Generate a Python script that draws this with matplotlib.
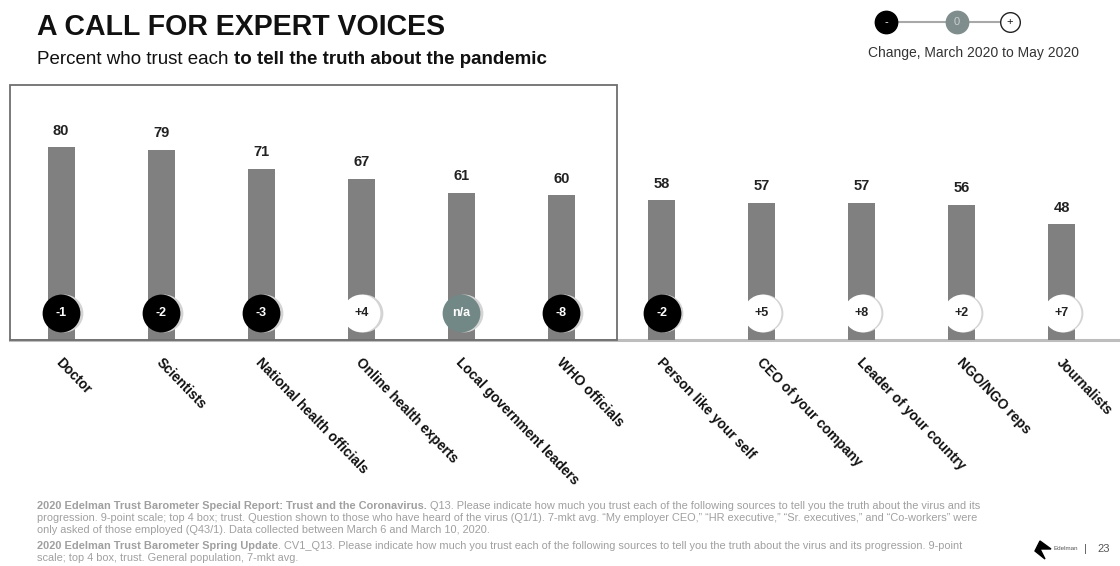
import matplotlib
matplotlib.use("Agg")
import matplotlib.pyplot as plt
from matplotlib.patches import Rectangle, Polygon
from matplotlib import font_manager

plt.rcParams['font.family'] = ['Liberation Sans', 'DejaVu Sans']

# data
labels = ["Doctor", "Scientists", "National health officials", "Online health experts",
          "Local government leaders", "WHO officials", "Person like your self",
          "CEO of your company", "Leader of your country", "NGO/NGO reps", "Journalists"]
trust = [80, 79, 71, 67, 61, 60, 58, 57, 57, 56, 48]
change = ["-1", "-2", "-3", "+4", "n/a", "-8", "-2", "+5", "+8", "+2", "+7"]
n_boxed = 6  # first six sources inside the frame

W, H = 1120, 566
fig = plt.figure(figsize=(W / 100, H / 100), dpi=100)
fig.patch.set_facecolor("white")

names = {f.name for f in font_manager.fontManager.ttflist}
narrow = ['Liberation Sans Narrow', 'Liberation Sans'] if 'Liberation Sans Narrow' in names else ['Liberation Sans']

# overlay axes in pixel coords for decorations
deco = fig.add_axes([0, 0, 1, 1])
deco.set_xlim(0, W)
deco.set_ylim(H, 0)
deco.axis("off")

ax = fig.add_axes([10 / W, 1 - 340 / H, 1110 / W, 255 / H])
ax.set_xlim(-0.51, 10.58)
ax.set_ylim(0, 105.8)
ax.axis("off")

x = list(range(len(labels)))
ax.bar(x, trust, width=0.27, color="#808080", zorder=2)
for i, v in enumerate(trust):
    ax.text(i, v + 4, str(v), ha="center", va="bottom", fontsize=10.5,
            fontweight="bold", color="#222222")

# change bubbles
def bubble_style(c):
    if c == "n/a":
        return "#728886", "white"
    if c.startswith("-"):
        return "black", "white"
    return "white", "#222222"

for i, c in enumerate(change):
    fc, tc = bubble_style(c)
    ax.scatter([i + 0.025], [11.0], s=740, color="#d4d4d4", zorder=3, clip_on=False,
               linewidths=0)
    ax.scatter([i], [11.2], s=740, color=fc, zorder=4, clip_on=False, linewidths=0)
    ax.text(i, 11.2, c, ha="center", va="center", fontsize=9, fontweight="bold",
            color=tc, zorder=5)

# frame around first group and baseline
ax.axhline(0, color="#bdbdbd", lw=2.2, zorder=1, clip_on=False)
ax.add_patch(Rectangle((-0.51, 0), n_boxed - 0.5 + 0.565, 105.8, fill=False,
                       edgecolor="#6e6e6e", lw=1.3, zorder=6, clip_on=False))

# rotated category labels
for i, lab in enumerate(labels):
    ax.text(i + 0.02, -6.5, lab, rotation=-46, rotation_mode="anchor", ha="left",
            va="top", fontsize=9.9, fontweight="bold", color="#111111", clip_on=False)

fig.canvas.draw()
renderer = fig.canvas.get_renderer()

def fit_text(x0, y0, txt, target_w, size, **kw):
    t = deco.text(x0, y0, txt, fontsize=size, **kw)
    w = t.get_window_extent(renderer).width
    t.set_fontsize(size * target_w / w)
    return t

# title and subtitle
fit_text(37, 27, "A CALL FOR EXPERT VOICES", 410, 25, fontweight="bold",
         color="#111111", va="center", ha="left", family=narrow)

def runs(x0, y0, parts, size, color, **kw):
    xx = x0
    for txt, bold in parts:
        t = deco.text(xx, y0, txt, fontsize=size, color=color, va="center", ha="left",
                      fontweight="bold" if bold else "normal", **kw)
        bb = t.get_window_extent(renderer)
        xx += bb.width
    return xx

runs(37, 60, [("Percent who trust each ", False),
              ("to tell the truth about the pandemic", True)], 13.5, "#111111")

# legend
deco.plot([886, 1010], [22, 22], color="#a8a8a8", lw=1.5, zorder=1)
deco.scatter([886], [22], s=260, color="black", zorder=2)
deco.scatter([957], [22], s=260, color="#7f8d8c", zorder=2)
deco.scatter([1010], [22], s=200, color="white", edgecolors="#222222", linewidths=1.0,
             zorder=2)
deco.text(886, 22, "-", color="white", fontsize=8, ha="center", va="center", zorder=3)
deco.text(957, 22, "0", color="#c8d0d0", fontsize=8, ha="center", va="center", zorder=3)
deco.text(1010, 22.5, "+", color="#111111", fontsize=8, ha="center", va="center", zorder=3)
deco.text(974, 53, "Change, March 2020 to May 2020", fontsize=10, color="#333333",
          ha="center", va="center")

# footnotes
fc = "#a0a0a0"
fs = 7.9
runs(37, 506, [("2020 Edelman Trust Barometer Special Report: Trust and the Coronavirus.", True),
               (" Q13. Please indicate how much you trust each of the following sources to tell you the truth about the virus and its", False)], fs, fc)
runs(37, 518, [("progression. 9-point scale; top 4 box; trust. Question shown to those who have heard of the virus (Q1/1). 7-mkt avg. \u201cMy employer CEO,\u201d \u201cHR executive,\u201d \u201cSr. executives,\u201d and \u201cCo-workers\u201d were", False)], fs, fc)
runs(37, 530, [("only asked of those employed (Q43/1). Data collected between March 6 and March 10, 2020.", False)], fs, fc)
runs(37, 546, [("2020 Edelman Trust Barometer Spring Update", True),
               (". CV1_Q13. Please indicate how much you trust each of the following sources to tell you the truth about the virus and its progression. 9-point", False)], fs, fc)
runs(37, 558, [("scale; top 4 box, trust. General population, 7-mkt avg.", False)], fs, fc)

# logo
deco.add_patch(Polygon([[1040, 541], [1051, 549], [1040, 549], [1045, 559], [1035, 551]],
                       closed=True, color="black"))
deco.text(1054, 549, "Edelman", fontsize=4.5, color="#555555", va="center", ha="left")
deco.text(1084, 549, "|", fontsize=8, color="#555555", va="center", ha="left")
deco.text(1097, 549, "23", fontsize=8, color="#555555", va="center", ha="left")

fig.savefig("out.png", dpi=100, facecolor="white")
